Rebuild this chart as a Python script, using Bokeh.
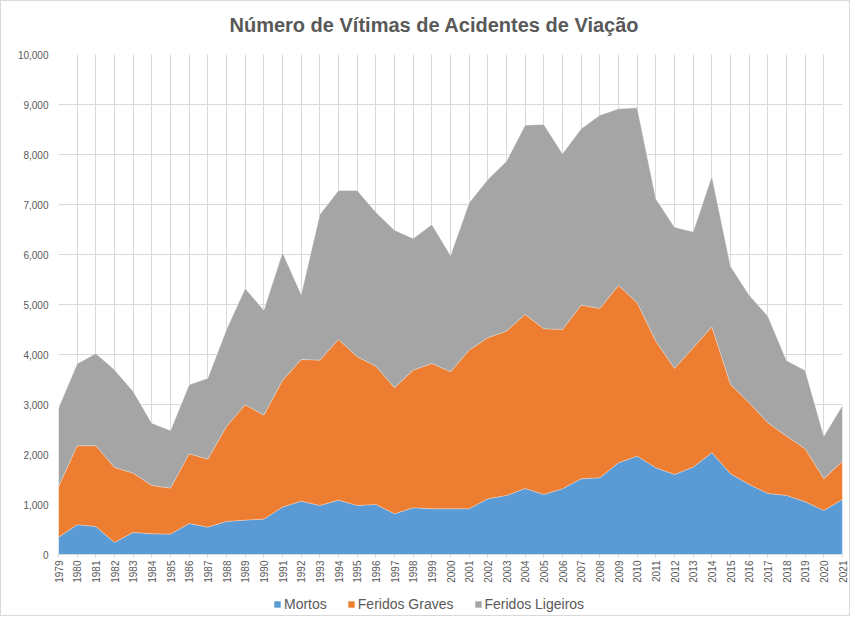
import math
from bokeh.plotting import figure
from bokeh.layouts import column
from bokeh.models import (ColumnDataSource, Range1d, FixedTicker, NumeralTickFormatter,
                          Legend, LegendItem, Label)
from bokeh.embed import file_html
from bokeh.resources import INLINE

years = list(range(1979, 2022))
mortos = [347, 593, 560, 240, 440, 413, 407, 620, 547, 660, 687, 707, 947, 1067, 980,
          1087, 980, 1000, 813, 933, 913, 913, 913, 1113, 1180, 1320, 1200, 1313, 1513,
          1533, 1833, 1967, 1733, 1600, 1747, 2033, 1613, 1400, 1220, 1180, 1053, 880, 1100]
graves = [1003, 1580, 1613, 1500, 1187, 967, 920, 1393, 1360, 1900, 2306, 2080, 2533, 2833,
          2907, 3213, 2973, 2767, 2520, 2754, 2907, 2740, 3174, 3220, 3287, 3480, 3313, 3187,
          3474, 3387, 3547, 3066, 2534, 2120, 2386, 2520, 1787, 1633, 1413, 1187, 1060, 633, 767]
ligeiros = [1580, 1640, 1847, 1953, 1633, 1247, 1153, 1380, 1620, 1940, 2327, 2100, 2560,
            1300, 2913, 2980, 3327, 3080, 3154, 2633, 2780, 2327, 2946, 3167, 3400, 3787,
            4087, 3513, 3526, 3867, 3533, 3900, 2846, 2827, 2320, 3014, 2367, 2154, 2134,
            1513, 1567, 854, 1113]
series = ["Mortos", "Feridos Graves", "Feridos Ligeiros"]
colors = ["#5b9bd5", "#ed7d31", "#a5a5a5"]
y_ticks = list(range(0, 10001, 1000))
title_text = "Número de Vítimas de Acidentes de Viação"

source = ColumnDataSource(dict(year=years, mortos=mortos, graves=graves, ligeiros=ligeiros))

FONT = "Liberation Sans"
TXT = "#595959"
W = 848
LEFT = 57
FW = 784
RIGHT = W - LEFT - FW


def blank_fig(h):
    # frame aligned with the main chart's frame; x data units == canvas pixels
    f = figure(frame_width=FW, frame_height=h, x_range=Range1d(LEFT, LEFT + FW),
               y_range=Range1d(0, h), x_axis_type=None, y_axis_type=None,
               output_backend="svg", toolbar_location=None,
               min_border_left=LEFT, min_border_right=RIGHT, min_border_top=0,
               min_border_bottom=0)
    f.outline_line_color = None
    f.grid.visible = False
    return f


# ---- title strip
pt = blank_fig(45)
pt.add_layout(Label(x=228, y=22, text=title_text, text_align="left", text_baseline="middle",
                    text_font=FONT, text_font_size="20px", text_font_style="bold",
                    text_color=TXT))

# ---- main chart
p = figure(frame_width=FW, frame_height=500,
           x_range=Range1d(1979, 2021), y_range=Range1d(0, 10000),
           output_backend="svg", toolbar_location=None,
           min_border_left=LEFT, min_border_right=RIGHT, min_border_top=8, min_border_bottom=35)
p.outline_line_color = None

p.varea_stack(["mortos", "graves", "ligeiros"], x="year", color=colors, source=source)
p.vline_stack(["mortos", "graves", "ligeiros"], x="year", color="white", line_alpha=0.45,
              line_width=0.8, source=source)

p.xaxis.ticker = FixedTicker(ticks=years)
p.xaxis.major_label_orientation = math.pi / 2
p.xaxis.major_label_text_font = FONT
p.xaxis.major_label_text_font_size = "10px"
p.xaxis.major_label_text_color = TXT
p.xaxis.axis_line_color = "#d9d9d9"
p.xaxis.major_tick_line_color = "#d9d9d9"
p.xaxis.major_tick_in = 0
p.xaxis.major_tick_out = 3
p.xaxis.minor_tick_line_color = None
p.xaxis.major_label_standoff = 3

p.yaxis.ticker = FixedTicker(ticks=y_ticks)
p.yaxis.formatter = NumeralTickFormatter(format="0,0")
p.yaxis.major_label_text_font = FONT
p.yaxis.major_label_text_font_size = "10px"
p.yaxis.major_label_text_color = TXT
p.yaxis.axis_line_color = None
p.yaxis.major_tick_line_color = None
p.yaxis.minor_tick_line_color = None
p.yaxis.major_tick_out = 0
p.yaxis.major_tick_in = 0
p.yaxis.major_label_standoff = 10

p.xgrid.ticker = FixedTicker(ticks=years)
p.xgrid.grid_line_color = "#d9d9d9"
p.ygrid.grid_line_color = "#d9d9d9"

# ---- legend strip (zero-area swatch renderers, only used for the legend glyphs)
pl = blank_fig(26)
swatches = [pl.varea(x=[0], y1=[0], y2=[0], color=c) for c in colors]
legend = Legend(items=[LegendItem(label=s, renderers=[r]) for s, r in zip(series, swatches)],
                orientation="horizontal", location=(215, 3),
                glyph_width=8, glyph_height=8, label_standoff=3, spacing=20, label_height=16,
                label_text_font=FONT, label_text_font_size="14px", label_text_color=TXT,
                border_line_color=None, background_fill_alpha=0, padding=3, margin=0)
pl.add_layout(legend, "center")

layout = column(pt, p, pl, spacing=0)
layout.styles = {"border": "1px solid #d9d9d9"}

open("out.html", "w").write(file_html(layout, INLINE))
